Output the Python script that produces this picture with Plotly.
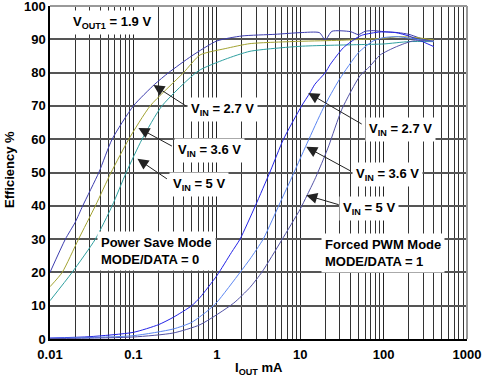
import numpy as np
import plotly.graph_objects as go

# ---- data ----
psm27_x = [0.01, 0.0153, 0.02, 0.0247, 0.0385, 0.0556, 0.1, 0.18, 0.265, 0.5, 1, 2, 5, 10, 17, 20, 24, 40, 50, 60, 75, 100, 150, 200, 300, 400]
psm27_y = [20, 30, 35, 40, 50, 60, 70, 76.5, 80, 85, 89.5, 91, 91.5, 92, 92, 89.8, 92.4, 92.3, 91.4, 92.4, 92.6, 92.3, 92, 91.5, 90, 89.3]

psm36_x = [0.01, 0.014, 0.022, 0.035, 0.054, 0.088, 0.159, 0.4, 0.63, 1.26, 2.5, 10, 30, 100, 150, 250, 400]
psm36_y = [15.7, 20, 30, 40, 50, 60, 70, 80, 85.3, 87.2, 88.7, 89.4, 89.7, 90.3, 90.8, 90.5, 89.8]

psm5_x = [0.01, 0.0184, 0.035, 0.0556, 0.082, 0.127, 0.22, 0.6, 1.26, 2.5, 10, 50, 100, 200, 400]
psm5_y = [11.5, 20, 30, 40, 50, 60, 70, 80.5, 84, 86.4, 87.9, 88.4, 88.6, 89.3, 89.3]

pwm27_x = [0.01, 0.03, 0.1, 0.2, 0.3, 0.5, 0.63, 1.0, 1.5, 1.9, 2.9, 4.4, 6.3, 10.4, 13, 15, 20, 23, 33, 48, 56, 90, 140, 200, 300, 400]
pwm27_y = [0.3, 0.7, 2, 4.3, 6.5, 10, 12.5, 19, 26, 30, 40, 50.5, 60, 70, 73.8, 76.5, 80, 82.5, 87.5, 90.5, 91.3, 92.2, 92, 91, 89.2, 87.8]

pwm36_x = [0.01, 0.1, 0.3, 0.5, 0.76, 1.0, 1.9, 2.5, 3.6, 6.0, 7.6, 12.1, 18.9, 29.6, 50, 75, 100, 144, 250, 400]
pwm36_y = [0.2, 1.0, 3, 5, 8.3, 11, 20, 24, 30, 42, 47.5, 58.8, 69.3, 78, 86, 89.5, 90.5, 90.8, 90, 89.3]

pwm5_x = [0.01, 0.1, 0.3, 0.63, 1.58, 2.5, 3.5, 6, 10, 12, 15, 19, 22, 31.6, 52, 68, 91, 143, 224, 400]
pwm5_y = [0.1, 0.6, 1.8, 4.3, 10.7, 15.5, 20.2, 29.7, 39, 43, 48, 54, 58, 69, 79, 81.8, 85.3, 87.8, 89.5, 89.5]

x_tickvals = [0.01, 0.1, 1, 10, 100, 1000]
x_ticktext = ["0.01", "0.1", "1", "10", "100", "1000"]
y_tickvals = list(range(0, 101, 10))

series = [
    (psm27_x, psm27_y, "#3c3cae"),
    (psm36_x, psm36_y, "#a3a332"),
    (psm5_x, psm5_y, "#2fa0a0"),
    (pwm27_x, pwm27_y, "#2323e6"),
    (pwm36_x, pwm36_y, "#5b86f2"),
    (pwm5_x, pwm5_y, "#5252a6"),
]

FONT = "Liberation Sans, Arial, sans-serif"
W, H = 487, 383
ML, MR, MT, MB = 50, 20, 6, 44
PW, PH = W - ML - MR, H - MT - MB

fig = go.Figure()
for xs, ys, c in series:
    fig.add_trace(go.Scatter(x=xs, y=ys, mode="lines",
                             line=dict(color=c, width=1, shape="spline", smoothing=0.6),
                             showlegend=False, hoverinfo="skip"))

fig.update_layout(
    width=W, height=H,
    margin=dict(l=ML, r=MR, t=MT, b=MB, autoexpand=False),
    paper_bgcolor="white", plot_bgcolor="white",
    font=dict(family=FONT, size=13, color="black"),
)
fig.update_xaxes(
    type="log", range=[-2, 3], automargin=False,
    tickvals=x_tickvals, ticktext=x_ticktext,
    tickfont=dict(family=FONT, size=13, color="black", weight="bold"),
    ticklabelstandoff=3, ticklabeloverflow="allow",
    showgrid=True, gridcolor="#222", gridwidth=1,
    minor=dict(dtick="D1", showgrid=True, gridcolor="#333", gridwidth=1, ticks=""),
    showline=True, linecolor="black", linewidth=1.5, ticks="",
    zeroline=False,
)
fig.update_yaxes(
    range=[0, 100], tickvals=y_tickvals, automargin=False,
    tickfont=dict(family=FONT, size=13, color="black", weight="bold"),
    ticklabeloverflow="allow",
    showgrid=True, gridcolor="#555", gridwidth=1.5,
    showline=True, linecolor="black", linewidth=1.5, ticks="",
    zeroline=False,
)

# axis titles
fig.add_annotation(xref="paper", yref="paper", x=(259 - ML) / PW, y=(H - MB - 368) / PH,
                   text="<b>I<sub>OUT</sub> mA</b>", showarrow=False,
                   xanchor="center", yanchor="middle", font=dict(family=FONT, size=13))
fig.add_annotation(xref="paper", yref="paper", x=(9 - ML) / PW, y=(H - MB - 170) / PH,
                   text="<b>Efficiency %</b>", showarrow=False, textangle=-90,
                   xanchor="center", yanchor="middle", font=dict(family=FONT, size=13))

# gray frame on top and right
fig.add_shape(type="line", xref="paper", yref="paper", x0=0, x1=1, y0=1, y1=1,
              line=dict(color="#999", width=2))
fig.add_shape(type="line", xref="paper", yref="paper", x0=1, x1=1, y0=0, y1=1,
              line=dict(color="#999", width=2))

# text labels with white boxes (x in log10 units)
labels = [
    (-1.251, 94.9, "<b>V<sub>OUT1</sub> = 1.9 V</b>"),
    (0.066, 68.8, "<b>V<sub>IN</sub> = 2.7 V</b>"),
    (-0.090, 56.5, "<b>V<sub>IN</sub> = 3.6 V</b>"),
    (-0.209, 46.5, "<b>V<sub>IN</sub> = 5 V</b>"),
    (-0.725, 26.4, "<b>Power Save Mode<br>MODE/DATA = 0</b>"),
    (2.198, 62.8, "<b>V<sub>IN</sub> = 2.7 V</b>"),
    (2.042, 49.5, "<b>V<sub>IN</sub> = 3.6 V</b>"),
    (1.826, 39.3, "<b>V<sub>IN</sub> = 5 V</b>"),
    (1.994, 25.8, "<b>Forced PWM Mode<br>MODE/DATA = 1</b>"),
]
for lx, ly, t in labels:
    fig.add_annotation(x=lx, y=ly, xref="x", yref="y", text=t, showarrow=False,
                       bgcolor="white", borderpad=3, align="left",
                       font=dict(family=FONT, size=13, color="black"))

# arrows: tip in data (log10 x), tail as pixel offset
arrows = [
    (-0.760, 76.3, 34, 22),
    (-0.940, 63.4, 35, 19),
    (-0.952, 54.1, 31, 21),
    (1.096, 73.9, 55, 32),
    (1.072, 57.7, 46, 25),
    (1.072, 43.2, 34, 10),
]
for tx, ty, ax, ay in arrows:
    fig.add_annotation(x=tx, y=ty, xref="x", yref="y", text="", showarrow=True,
                       ax=ax, ay=ay, arrowhead=2, arrowsize=2.2, arrowwidth=1,
                       arrowcolor="#222", standoff=0)

fig.write_html("out.html", config={"displayModeBar": False},
               post_script="document.body.style.margin='0px';")
